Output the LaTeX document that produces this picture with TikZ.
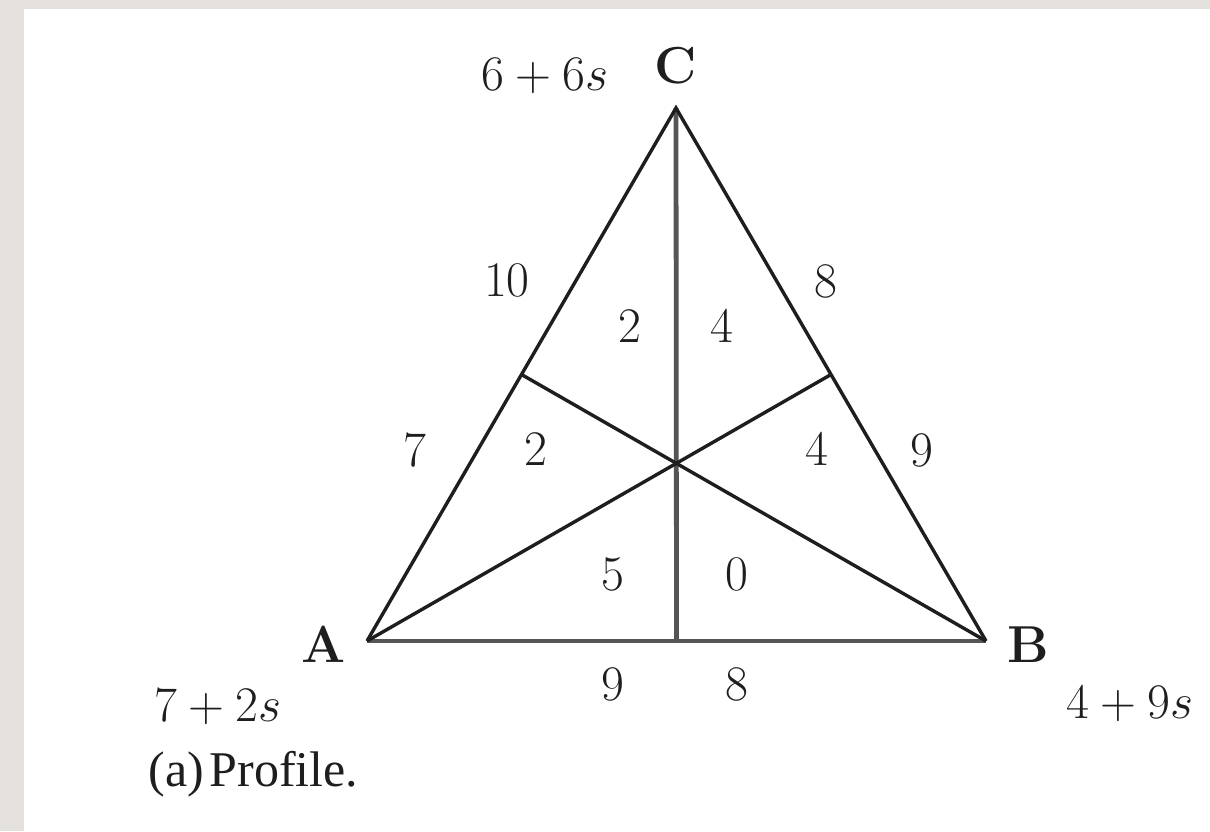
\documentclass[tikz,border=0pt]{standalone}
\usepackage{fontspec}
\usetikzlibrary{calc}
\newfontfamily\capfont{Liberation Serif}
\definecolor{bggray}{HTML}{E4E1DC}
\definecolor{inkc}{HTML}{1E1E1E}
\definecolor{axisline}{HTML}{555555}
\begin{document}
\begin{tikzpicture}[x=0.5pt,y=-0.5pt,
  lbl/.style={anchor=base,inner sep=0pt,text=inkc,font=\fontsize{26}{31}\selectfont},
  captionlbl/.style={anchor=base west,inner sep=0pt,text=inkc,font=\capfont\fontsize{25}{30}\selectfont},
  slant/.style={draw=inkc,line width=1.7pt},
  straight/.style={draw=axisline,line width=2.4pt}]
\useasboundingbox (0,0) rectangle (1210,831);
\fill[bggray] (0,0) rectangle (1210,831);
\fill[white] (24,9) rectangle (1210,831);
% vertices
\coordinate (A) at (367,641);
\coordinate (B) at (986,641);
\coordinate (C) at (676,108);
\coordinate (mAB) at ($(A)!0.5!(B)$);
\coordinate (mBC) at ($(B)!0.5!(C)$);
\coordinate (mAC) at ($(A)!0.5!(C)$);
% edges
\draw[straight] (A) -- (B);
\draw[straight] (C) -- (mAB);
\draw[slant,line join=miter] (A) -- (C) -- (B);
\draw[slant] (A) -- (mBC);
\draw[slant] (B) -- (mAC);
% vertex labels
\node[lbl] (lA) at (324,662) {\textbf{A}};
\node[lbl] (lB) at (1028,662) {\textbf{B}};
\node[lbl] (lC) at (676,83) {\textbf{C}};
\node[lbl] (vA) at (218,721) {$7+2s$};
\node[lbl] (vB) at (1130,718) {$4+9s$};
\node[lbl] (vC) at (545,90) {$6+6s$};
% edge labels
\node[lbl] (e10) at (507,296) {$10$};
\node[lbl] (e8t) at (826,297) {$8$};
\node[lbl] (e7) at (415,466) {$7$};
\node[lbl] (e9r) at (922,466) {$9$};
\node[lbl] (e9b) at (613,700) {$9$};
\node[lbl] (e8b) at (737,700) {$8$};
% region labels
\node[lbl] (r2t) at (630,342) {$2$};
\node[lbl] (r4t) at (722,342) {$4$};
\node[lbl] (r2l) at (536,465) {$2$};
\node[lbl] (r4r) at (817,465) {$4$};
\node[lbl] (r5) at (613,590) {$5$};
\node[lbl] (r0) at (737,590) {$0$};
% caption
\node[captionlbl] (caption) at (148,786) {(a)\hspace{0.12em}Profile.};
\end{tikzpicture}
\end{document}
